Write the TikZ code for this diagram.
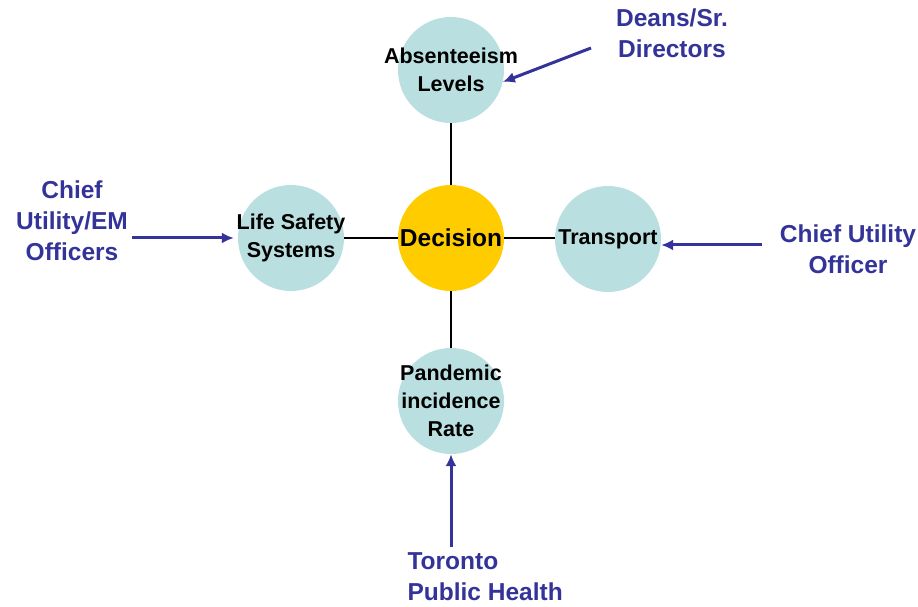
\documentclass[tikz,border=0pt]{standalone}
\usepackage{fontspec}
\setmainfont{Liberation Sans}
\usetikzlibrary{arrows.meta,positioning}
\definecolor{circBlue}{HTML}{B9DFE0}
\definecolor{decGold}{HTML}{FFCC00}
\definecolor{navy}{HTML}{333399}
\tikzset{
	factor/.style={circle,fill=circBlue,minimum size=106pt,inner sep=0pt},
	factTxt/.style={align=center,inner sep=0pt,font=\bfseries\fontsize{21.5}{28}\selectfont},
	owner/.style={text=navy,align=center,font=\bfseries\fontsize{24.5}{31}\selectfont},
	link/.style={line width=2.8pt},
	feed/.style={navy,line width=3pt,-{Latex[length=12pt,width=11pt]}}
}
\begin{document}
\begin{tikzpicture}[x=1pt,y=1pt]
	\useasboundingbox (0,0) rectangle (918,606);

	% central decision and its four inputs
	\node[factor,fill=decGold,label={[factTxt,font=\bfseries\fontsize{24.5}{30}\selectfont]center:Decision}] (dec) at (451,368) {};
	\node[factor,label={[factTxt]center:{Absenteeism\\Levels}}] (absent) at (451,536) {};
	\node[factor,label={[factTxt]center:{Life Safety\\Systems}}] (lsafety) at (291,368) {};
	\node[factor,label={[factTxt]center:Transport}] (transp) at (608,367) {};
	\node[factor,label={[factTxt]center:{Pandemic\\incidence\\Rate}}] (pandem) at (451,205) {};

	\draw[link] (dec) -- (absent);
	\draw[link] (dec) -- (lsafety);
	\draw[link] (dec) -- (dec -| transp.west);
	\draw[link] (dec) -- (pandem);

	% who reports each input
	\node[owner] (deans) at (672,573) {Deans/Sr.\\Directors};
	\node[owner] (chiefEM) at (72,385) {Chief\\Utility/EM\\Officers};
	\node[owner] (chiefUt) at (848,357) {Chief Utility\\Officer};
	\node[owner,align=left,anchor=west] (tph) at (404,29) {Toronto\\Public Health};

	\coordinate (deansT) at (591,558);
	\coordinate (chiefEMT) at (132,368);
	\coordinate (chiefUtT) at (762,361);
	\coordinate (tphT) at (451,59);

	\draw[feed] (deansT) -- (absent.-13);
	\draw[feed] (chiefEMT) -- ([xshift=-4pt]lsafety.west);
	\draw[feed] (chiefUtT) -- (chiefUtT -| transp.east);
	\draw[feed] (tphT) -- (pandem.south);

\end{tikzpicture}
\end{document}
